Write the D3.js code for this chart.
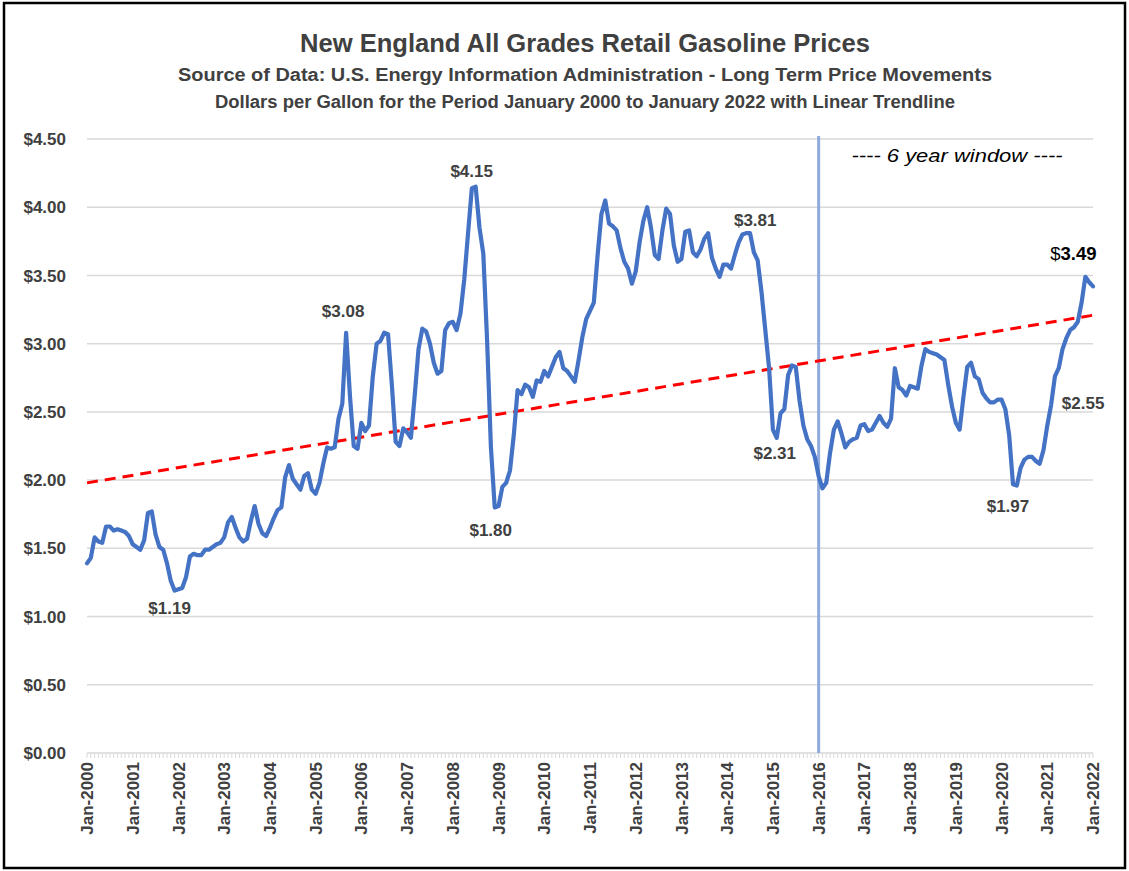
<!DOCTYPE html>
<html>
<head>
<meta charset="utf-8">
<script src="https://cdn.jsdelivr.net/npm/d3@7"></script>
<style>
    body { margin: 0; background: #fff; }
    svg { display: block; font-family: 'Liberation Sans', Arial, sans-serif; }
    .title { font-weight: bold; fill: #404040; }
    .ylab, .xlab, .dlab { font-weight: bold; fill: #404040; }
</style>
</head>
<body>
<svg class="chart" width="1129" height="871"></svg>
<script>
// monthly average price, $/gal, Jan 2000 .. Jan 2022 (one row per year)
var prices = [
    1.39, 1.43, 1.58, 1.55, 1.54, 1.66, 1.66, 1.63, 1.64, 1.63, 1.62, 1.59,
    1.53, 1.51, 1.49, 1.56, 1.76, 1.77, 1.60, 1.51, 1.49, 1.39, 1.26, 1.19,
    1.20, 1.21, 1.29, 1.44, 1.46, 1.45, 1.45, 1.49, 1.49, 1.51, 1.53, 1.54,
    1.58, 1.69, 1.73, 1.65, 1.58, 1.55, 1.57, 1.70, 1.81, 1.68, 1.61, 1.59,
    1.65, 1.72, 1.78, 1.80, 2.02, 2.11, 2.01, 1.97, 1.93, 2.03, 2.05, 1.93,
    1.90, 1.98, 2.12, 2.24, 2.23, 2.24, 2.45, 2.56, 3.08, 2.62, 2.25, 2.23,
    2.42, 2.36, 2.40, 2.76, 3.00, 3.02, 3.08, 3.07, 2.70, 2.28, 2.25, 2.38,
    2.35, 2.31, 2.62, 2.96, 3.11, 3.09, 3.00, 2.86, 2.78, 2.80, 3.10, 3.15,
    3.16, 3.10, 3.22, 3.47, 3.81, 4.14, 4.15, 3.85, 3.66, 3.02, 2.24, 1.80,
    1.81, 1.95, 1.98, 2.07, 2.33, 2.66, 2.63, 2.70, 2.68, 2.61, 2.73, 2.72,
    2.80, 2.76, 2.83, 2.90, 2.94, 2.82, 2.80, 2.76, 2.72, 2.88, 3.05, 3.18,
    3.24, 3.30, 3.65, 3.95, 4.05, 3.88, 3.86, 3.83, 3.70, 3.60, 3.55, 3.44,
    3.53, 3.74, 3.90, 4.00, 3.85, 3.65, 3.62, 3.83, 3.99, 3.95, 3.72, 3.60,
    3.62, 3.82, 3.83, 3.67, 3.64, 3.69, 3.77, 3.81, 3.63, 3.55, 3.49, 3.58,
    3.58, 3.55, 3.65, 3.74, 3.80, 3.81, 3.81, 3.67, 3.61, 3.38, 3.10, 2.82,
    2.37, 2.31, 2.49, 2.52, 2.77, 2.84, 2.83, 2.58, 2.40, 2.30, 2.25, 2.17,
    2.03, 1.94, 1.98, 2.20, 2.37, 2.43, 2.34, 2.24, 2.28, 2.30, 2.31, 2.40,
    2.41, 2.36, 2.37, 2.42, 2.47, 2.42, 2.39, 2.45, 2.82, 2.68, 2.66, 2.62,
    2.69, 2.68, 2.67, 2.84, 2.96, 2.94, 2.93, 2.92, 2.90, 2.88, 2.70, 2.54,
    2.42, 2.37, 2.61, 2.83, 2.86, 2.76, 2.74, 2.64, 2.60, 2.57, 2.57, 2.59,
    2.59, 2.52, 2.33, 1.97, 1.96, 2.09, 2.15, 2.17, 2.17, 2.14, 2.12, 2.22,
    2.40, 2.55, 2.76, 2.82, 2.96, 3.04, 3.10, 3.12, 3.16, 3.30, 3.49, 3.45,
    3.42
];
var startYear = 2000;
var yTicks = [0, 0.5, 1, 1.5, 2, 2.5, 3, 3.5, 4, 4.5];
var xTickYears = [2000, 2001, 2002, 2003, 2004, 2005, 2006, 2007, 2008, 2009, 2010,
                  2011, 2012, 2013, 2014, 2015, 2016, 2017, 2018, 2019, 2020, 2021, 2022];
var windowStart = 2016;   // the "6 year window" marker (Jan)
// labelled points: month index and the label text shown in the chart
var labelMonths = [23, 68, 102, 107, 173, 181, 243, 253, 262];
var labelTexts = ['$1.19', '$3.08', '$4.15', '$1.80', '$3.81', '$2.31', '$1.97', '$2.55', '$3.49'];

(function() {

    var p = {};
        p.left = 87;
        p.right = 1093;
        p.top = 139;
        p.bottom = 753;
        p.lineColor = '#4472c4';
        p.lineWidth = 4.2;
        p.gridColor = '#d9d9d9';
        p.trend = { color: '#ff0000', width: 3, dash: '11,7' };
        p.window = { color: '#8faadc', width: 3, top: 136 };
        p.titles = [
            { text: 'New England All Grades Retail Gasoline Prices', y: 52, size: 26, len: 570 },
            { text: 'Source of Data:  U.S. Energy Information Administration - Long Term Price Movements', y: 81, size: 18, len: 814 },
            { text: 'Dollars per Gallon for the Period January 2000 to January 2022 with Linear Trendline', y: 108, size: 18, len: 740 }
        ];
        // label offsets from their point: [dx, dy] to the text centre / baseline
        p.labelOffsets = [[-5, 23], [-3, -16], [-4, -10], [-4, 29], [9, -7], [-2, 21], [-5, 28], [32, 4], [-12, -17]];

    var svg = d3.select('.chart');

    svg.append('rect')
        .attr('x', 4)
        .attr('y', 3)
        .attr('width', 1121)
        .attr('height', 865)
        .attr('fill', 'none')
        .attr('stroke', '#000')
        .attr('stroke-width', 2.5)
    ;

    //-----  Titles  -----//
    p.titles.forEach(function(t) {
        svg.append('text')
            .attr('class', 'title')
            .attr('x', 585)
            .attr('y', t.y)
            .attr('text-anchor', 'middle')
            .attr('font-size', t.size)
            .attr('textLength', t.len)
            .attr('lengthAdjust', 'spacingAndGlyphs')
            .text(t.text)
        ;
    });

    //-----  Scales  -----//
    var x = d3.scaleLinear()
        .domain([0, prices.length - 1])
        .range([p.left, p.right])
    ;
    var y = d3.scaleLinear()
        .domain([0, 4.5])
        .range([p.bottom, p.top])
    ;
    var fmt = d3.format('$.2f');

    //-----  Grid + Y Axis  -----//
    svg.append('g')
        .attr('class', 'grid')
        .selectAll('line')
        .data(yTicks)
        .enter().append('line')
            .attr('x1', p.left)
            .attr('x2', p.right)
            .attr('y1', function(d) { return y(d); })
            .attr('y2', function(d) { return y(d); })
            .attr('stroke', p.gridColor)
            .attr('stroke-width', 1.5)
    ;
    svg.append('g')
        .selectAll('text')
        .data(yTicks)
        .enter().append('text')
            .attr('class', 'ylab')
            .attr('x', 66)
            .attr('y', function(d) { return y(d); })
            .attr('dy', '0.36em')
            .attr('text-anchor', 'end')
            .attr('font-size', 17)
            .text(function(d) { return fmt(d); })
    ;

    //-----  X Axis (monthly minor ticks, yearly labels)  -----//
    svg.append('g')
        .selectAll('line')
        .data(d3.range(prices.length))
        .enter().append('line')
            .attr('x1', function(d) { return x(d); })
            .attr('x2', function(d) { return x(d); })
            .attr('y1', p.bottom)
            .attr('y2', p.bottom + 5)
            .attr('stroke', p.gridColor)
            .attr('stroke-width', 1)
    ;
    var monthFmt = d3.timeFormat('%b-%Y');
    svg.append('g')
        .selectAll('text')
        .data(xTickYears)
        .enter().append('text')
            .attr('class', 'xlab')
            .attr('transform', function(d) {
                return 'translate(' + x((d - startYear) * 12) + ',' + (p.bottom + 9) + ') rotate(-90)';
            })
            .attr('dy', '0.36em')
            .attr('text-anchor', 'end')
            .attr('font-size', 17)
            .text(function(d) { return monthFmt(new Date(d, 0, 1)); })
    ;

    //-----  6 year window  -----//
    var wx = x((windowStart - startYear) * 12);
    svg.append('line')
        .attr('x1', wx)
        .attr('x2', wx)
        .attr('y1', p.window.top)
        .attr('y2', p.bottom)
        .attr('stroke', p.window.color)
        .attr('stroke-width', p.window.width)
    ;
    svg.append('text')
        .attr('x', 957)
        .attr('y', 162)
        .attr('text-anchor', 'middle')
        .attr('font-size', 19)
        .attr('font-style', 'italic')
        .attr('fill', '#000')
        .attr('textLength', 211)
        .attr('lengthAdjust', 'spacingAndGlyphs')
        .text('---- 6 year window ----')
    ;

    //-----  Linear trendline (least squares on the monthly data)  -----//
    var n = prices.length,
        mx = d3.mean(d3.range(n)),
        my = d3.mean(prices),
        sxy = d3.sum(prices, function(v, i) { return (i - mx) * (v - my); }),
        sxx = d3.sum(d3.range(n), function(i) { return (i - mx) * (i - mx); }),
        slope = sxy / sxx,
        icpt = my - slope * mx
    ;
    svg.append('line')
        .attr('x1', x(0))
        .attr('y1', y(icpt))
        .attr('x2', x(n - 1))
        .attr('y2', y(icpt + slope * (n - 1)))
        .attr('stroke', p.trend.color)
        .attr('stroke-width', p.trend.width)
        .attr('stroke-dasharray', p.trend.dash)
    ;

    //-----  Price line  -----//
    var priceLine = d3.line()
        .x(function(d, i) { return x(i); })
        .y(function(d) { return y(d); })
    ;
    svg.append('path')
        .datum(prices)
        .attr('d', priceLine)
        .attr('fill', 'none')
        .attr('stroke', p.lineColor)
        .attr('stroke-width', p.lineWidth)
        .attr('stroke-linejoin', 'round')
        .attr('stroke-linecap', 'round')
    ;

    //-----  Data labels  -----//
    labelMonths.forEach(function(m, k) {
        var last = k === labelMonths.length - 1;
        var lbl = svg.append('text')
            .attr('class', last ? '' : 'dlab')
            .attr('x', x(m) + p.labelOffsets[k][0])
            .attr('y', y(prices[m]) + p.labelOffsets[k][1])
            .attr('text-anchor', 'middle')
            .attr('font-size', last ? 18.5 : 17)
            .attr('font-weight', 'bold')
            .attr('fill', last ? '#000' : '#404040')
        ;
        if (last) {
            // the latest value is shown with a plain dollar sign
            lbl.append('tspan').attr('font-weight', 'normal').text(labelTexts[k].charAt(0));
            lbl.append('tspan').text(labelTexts[k].slice(1));
        } else {
            lbl.text(labelTexts[k]);
        }
    });
})();
</script>
</body>
</html>
